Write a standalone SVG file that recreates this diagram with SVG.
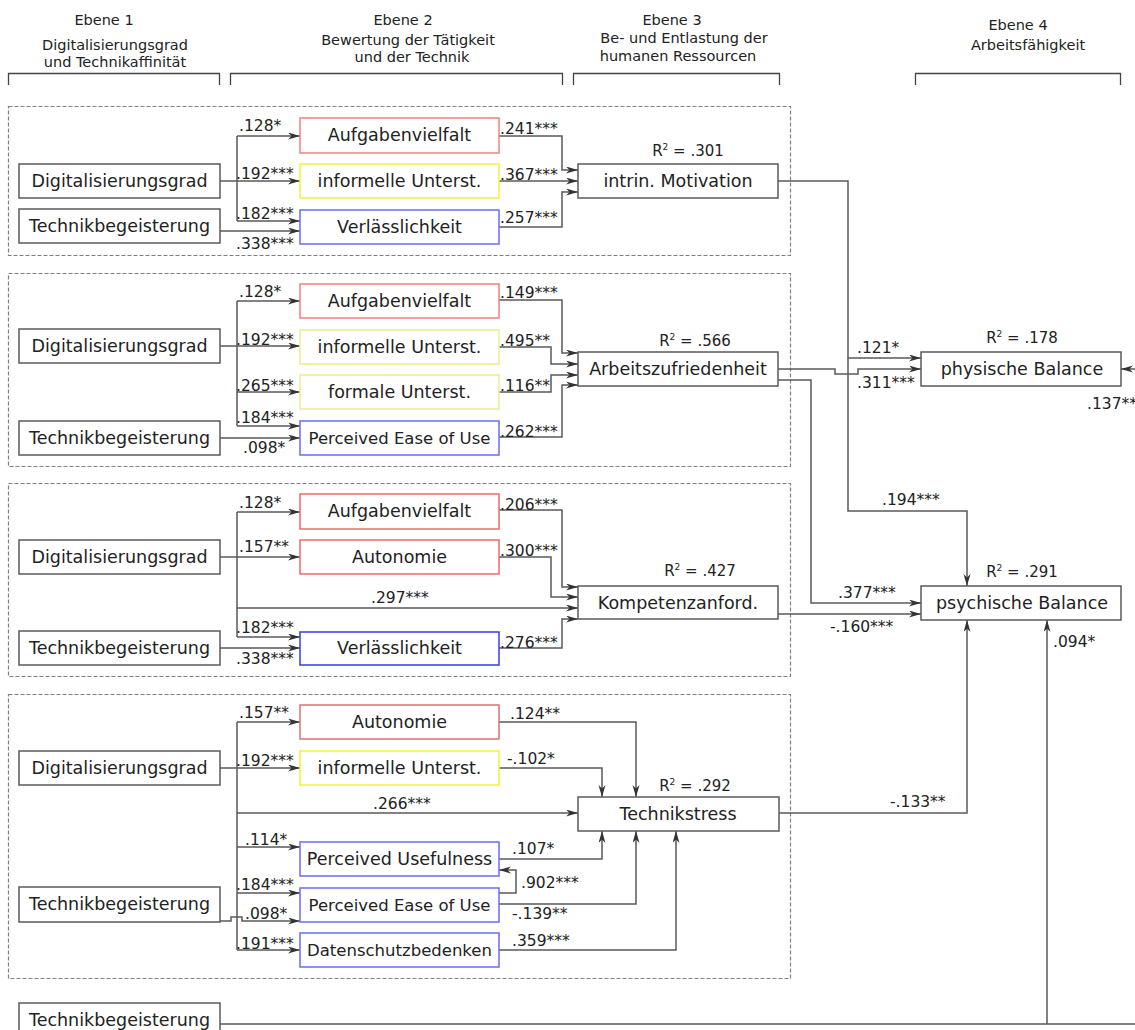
<svg xmlns="http://www.w3.org/2000/svg" width="1135" height="1030" viewBox="0 0 1135 1030">
  <defs>
    <marker id="ah" markerUnits="userSpaceOnUse" markerWidth="13" markerHeight="8" refX="12" refY="3.5" orient="auto">
      <path d="M0,0 L12,3.5 L0,7 L3.5,3.5 z" fill="#333"/>
    </marker>
    <style>
      text { font-family: "DejaVu Sans", Verdana, sans-serif; fill: #222; }
      .hd { font-size: 14.5px; text-anchor: middle; }
      .nt { font-size: 17.5px; text-anchor: middle; }
      .nts { font-size: 16.5px; text-anchor: middle; }
      .lb { font-size: 15.5px; }
      .r2 { font-size: 15px; text-anchor: middle; }
      .sup { font-size: 9px; }
      .box { fill: #fff; stroke: #5a5a5a; stroke-width: 1.5; }
      .red { stroke: #f08080; }
      .red2 { stroke: #f06a6a; }
      .red3 { stroke: #d77373; }
      .yel { stroke: #f2f23a; }
      .yel2 { stroke: #ecec8c; }
      .blu { stroke: #6a6aff; }
      .blu2 { stroke: #3a3af0; }
      .panel { fill: none; stroke: #808080; stroke-width: 1.2; stroke-dasharray: 4 2; }
      .brk { fill: none; stroke: #444; stroke-width: 1.3; }
      .w { fill: none; stroke: #595959; stroke-width: 1.5; }
      .a { marker-end: url(#ah); }
    </style>
  </defs>
  <rect width="1135" height="1030" fill="#fff"/>

  <!-- column headings -->
  <g id="headings">
    <text class="hd" x="104" y="25">Ebene 1</text>
    <text class="hd" x="115" y="50">Digitalisierungsgrad</text>
    <text class="hd" x="115" y="67">und Technikaffinität</text>
    <text class="hd" x="403" y="25">Ebene 2</text>
    <text class="hd" x="408" y="45">Bewertung der Tätigkeit</text>
    <text class="hd" x="412" y="62">und der Technik</text>
    <text class="hd" x="672" y="25">Ebene 3</text>
    <text class="hd" x="684" y="43">Be- und Entlastung der</text>
    <text class="hd" x="678" y="61">humanen Ressourcen</text>
    <text class="hd" x="1018" y="30">Ebene 4</text>
    <text class="hd" x="1028" y="50">Arbeitsfähigkeit</text>
    <path class="brk" d="M8.5,85 V73.5 H219.5 V85"/>
    <path class="brk" d="M230.5,85 V73.5 H562.5 V85"/>
    <path class="brk" d="M573.5,85 V73.5 H779.5 V85"/>
    <path class="brk" d="M915.5,85 V73.5 H1120.5 V85"/>
  </g>

  <!-- dashed model panels -->
  <g id="panels">
    <rect class="panel" x="8.5" y="106.5" width="782" height="149"/>
    <rect class="panel" x="8.5" y="273.5" width="782" height="193"/>
    <rect class="panel" x="8.5" y="483.5" width="782" height="193"/>
    <rect class="panel" x="8.5" y="694.5" width="782" height="284"/>
  </g>

  <!-- connectors -->
  <g id="connectors">
    <!-- model 1: intrinsic motivation -->
    <path class="w a" d="M220,181 H300"/>
    <path class="w" d="M237,136 V221"/>
    <path class="w a" d="M237,136 H300"/>
    <path class="w a" d="M237,221 H300"/>
    <path class="w a" d="M220,231 H300"/>
    <path class="w a" d="M499,136 H562 V170 H578"/>
    <path class="w a" d="M499,181 H578"/>
    <path class="w a" d="M499,227 H562 V192 H578"/>
    <path class="w a" d="M778,181 H848 V358 H921"/>
    <path class="w a" d="M848,358 V511 H967 V586"/>

    <!-- model 2: job satisfaction -->
    <path class="w a" d="M220,346 H300"/>
    <path class="w" d="M237,301 V426"/>
    <path class="w a" d="M237,301 H300"/>
    <path class="w a" d="M237,392 H300"/>
    <path class="w a" d="M237,426 H300"/>
    <path class="w a" d="M220,438 H300"/>
    <path class="w a" d="M499,300 H562 V353 H578"/>
    <path class="w a" d="M499,347 H551 V364 H578"/>
    <path class="w a" d="M499,392 H551 V375 H578"/>
    <path class="w a" d="M499,437 H562 V385 H578"/>
    <path class="w a" d="M778,369 H835 V374 H858 V369 H921"/>
    <path class="w a" d="M778,380 H811 V603 H921"/>

    <!-- model 3: competence demands -->
    <path class="w" d="M237,512 V637"/>
    <path class="w a" d="M237,512 H300"/>
    <path class="w a" d="M220,557 H300"/>
    <path class="w a" d="M237,608 H578"/>
    <path class="w a" d="M237,637 H300"/>
    <path class="w a" d="M220,648 H300"/>
    <path class="w a" d="M499,510 H562 V587 H578"/>
    <path class="w a" d="M499,557 H551 V597 H578"/>
    <path class="w a" d="M499,648 H562 V619 H578"/>
    <path class="w a" d="M778,614 H921"/>

    <!-- model 4: technostress -->
    <path class="w" d="M237,722 V950"/>
    <path class="w a" d="M237,722 H300"/>
    <path class="w a" d="M220,768 H300"/>
    <path class="w a" d="M237,813 H578"/>
    <path class="w a" d="M237,847 H300"/>
    <path class="w a" d="M237,893 H300"/>
    <path class="w a" d="M220,921 H231 V917 H242 V921 H300"/>
    <path class="w a" d="M237,950 H300"/>
    <path class="w a" d="M499,722 H636 V797"/>
    <path class="w a" d="M499,768 H602 V797"/>
    <path class="w a" d="M499,859 H602 V831"/>
    <path class="w a" d="M499,893 H516 V870 H499"/>
    <path class="w a" d="M499,904 H636 V831"/>
    <path class="w a" d="M499,950 H676 V831"/>
    <path class="w a" d="M779,813 H967 V620"/>

    <!-- direct paths into work ability -->
    <path class="w" d="M220,1024 H1135"/>
    <path class="w a" d="M1047,1024 V620"/>
    <path class="w a" d="M1135,369 H1121"/>
  </g>

  <!-- path coefficients -->
  <g id="coefficients" class="lb">
    <text class="lb" x="239" y="131">.128*</text>
    <text class="lb" x="236" y="179">.192***</text>
    <text class="lb" x="236" y="219">.182***</text>
    <text class="lb" x="236" y="249">.338***</text>
    <text class="lb" x="500" y="134">.241***</text>
    <text class="lb" x="500" y="180">.367***</text>
    <text class="lb" x="500" y="223">.257***</text>

    <text class="lb" x="239" y="297">.128*</text>
    <text class="lb" x="236" y="345">.192***</text>
    <text class="lb" x="236" y="391">.265***</text>
    <text class="lb" x="236" y="423">.184***</text>
    <text class="lb" x="243" y="453">.098*</text>
    <text class="lb" x="500" y="298">.149***</text>
    <text class="lb" x="500" y="346">.495**</text>
    <text class="lb" x="500" y="391">.116**</text>
    <text class="lb" x="500" y="437">.262***</text>

    <text class="lb" x="239" y="508">.128*</text>
    <text class="lb" x="239" y="552">.157**</text>
    <text class="lb" x="371" y="603">.297***</text>
    <text class="lb" x="236" y="633">.182***</text>
    <text class="lb" x="236" y="664">.338***</text>
    <text class="lb" x="500" y="510">.206***</text>
    <text class="lb" x="500" y="556">.300***</text>
    <text class="lb" x="500" y="648">.276***</text>

    <text class="lb" x="239" y="718">.157**</text>
    <text class="lb" x="236" y="766">.192***</text>
    <text class="lb" x="373" y="809">.266***</text>
    <text class="lb" x="245" y="845">.114*</text>
    <text class="lb" x="236" y="890">.184***</text>
    <text class="lb" x="245" y="919">.098*</text>
    <text class="lb" x="236" y="949">.191***</text>
    <text class="lb" x="510" y="719">.124**</text>
    <text class="lb" x="507" y="764">-.102*</text>
    <text class="lb" x="512" y="854">.107*</text>
    <text class="lb" x="521" y="888">.902***</text>
    <text class="lb" x="512" y="919">-.139**</text>
    <text class="lb" x="512" y="946">.359***</text>

    <text class="lb" x="857" y="353">.121*</text>
    <text class="lb" x="857" y="388">.311***</text>
    <text class="lb" x="1087" y="409">.137**</text>
    <text class="lb" x="882" y="505">.194***</text>
    <text class="lb" x="838" y="598">.377***</text>
    <text class="lb" x="830" y="632">-.160***</text>
    <text class="lb" x="1053" y="647">.094*</text>
    <text class="lb" x="890" y="807">-.133**</text>
  </g>

  <!-- model 1 nodes -->
  <g id="m1-digitalisierungsgrad"><rect class="box" x="19" y="164" width="201" height="34"/><text class="nt" x="119.5" y="187">Digitalisierungsgrad</text></g>
  <g id="m1-technikbegeisterung"><rect class="box" x="19" y="209" width="201" height="34"/><text class="nt" x="119.5" y="232">Technikbegeisterung</text></g>
  <g id="m1-aufgabenvielfalt"><rect class="box red" x="300" y="118" width="199" height="35"/><text class="nt" x="399.5" y="141">Aufgabenvielfalt</text></g>
  <g id="m1-informelle"><rect class="box yel" x="300" y="164" width="199" height="34"/><text class="nt" x="399.5" y="187">informelle Unterst.</text></g>
  <g id="m1-verlaesslichkeit"><rect class="box blu" x="300" y="210" width="199" height="34"/><text class="nt" x="399.5" y="233">Verlässlichkeit</text></g>
  <g id="m1-motivation"><rect class="box" x="578" y="164" width="200" height="34"/><text class="nt" x="678" y="187">intrin. Motivation</text>
    <text class="r2" x="688" y="156">R<tspan class="sup" dy="-6">2</tspan><tspan dy="6"> = .301</tspan></text></g>

  <!-- model 2 nodes -->
  <g id="m2-digitalisierungsgrad"><rect class="box" x="19" y="329" width="201" height="34"/><text class="nt" x="119.5" y="352">Digitalisierungsgrad</text></g>
  <g id="m2-technikbegeisterung"><rect class="box" x="19" y="421" width="201" height="34"/><text class="nt" x="119.5" y="444">Technikbegeisterung</text></g>
  <g id="m2-aufgabenvielfalt"><rect class="box red" x="300" y="284" width="199" height="34"/><text class="nt" x="399.5" y="307">Aufgabenvielfalt</text></g>
  <g id="m2-informelle"><rect class="box yel2" x="300" y="330" width="199" height="34"/><text class="nt" x="399.5" y="353">informelle Unterst.</text></g>
  <g id="m2-formale"><rect class="box yel2" x="300" y="375" width="199" height="34"/><text class="nt" x="399.5" y="398">formale Unterst.</text></g>
  <g id="m2-ease-of-use"><rect class="box blu" x="300" y="421" width="199" height="34"/><text class="nts" x="399.5" y="444">Perceived Ease of Use</text></g>
  <g id="m2-arbeitszufriedenheit"><rect class="box" x="578" y="352" width="200" height="34"/><text class="nt" x="678" y="375">Arbeitszufriedenheit</text>
    <text class="r2" x="695" y="346">R<tspan class="sup" dy="-6">2</tspan><tspan dy="6"> = .566</tspan></text></g>

  <!-- model 3 nodes -->
  <g id="m3-digitalisierungsgrad"><rect class="box" x="19" y="540" width="201" height="34"/><text class="nt" x="119.5" y="563">Digitalisierungsgrad</text></g>
  <g id="m3-technikbegeisterung"><rect class="box" x="19" y="631" width="201" height="34"/><text class="nt" x="119.5" y="654">Technikbegeisterung</text></g>
  <g id="m3-aufgabenvielfalt"><rect class="box red2" x="300" y="494" width="199" height="35"/><text class="nt" x="399.5" y="517">Aufgabenvielfalt</text></g>
  <g id="m3-autonomie"><rect class="box red2" x="300" y="540" width="199" height="34"/><text class="nt" x="399.5" y="563">Autonomie</text></g>
  <g id="m3-verlaesslichkeit"><rect class="box blu2" x="300" y="632" width="199" height="33"/><text class="nt" x="399.5" y="654">Verlässlichkeit</text></g>
  <g id="m3-kompetenz"><rect class="box" x="578" y="586" width="200" height="33"/><text class="nt" x="678" y="609">Kompetenzanford.</text>
    <text class="r2" x="700" y="576">R<tspan class="sup" dy="-6">2</tspan><tspan dy="6"> = .427</tspan></text></g>

  <!-- model 4 nodes -->
  <g id="m4-digitalisierungsgrad"><rect class="box" x="19" y="751" width="201" height="34"/><text class="nt" x="119.5" y="774">Digitalisierungsgrad</text></g>
  <g id="m4-technikbegeisterung"><rect class="box" x="19" y="887" width="201" height="35"/><text class="nt" x="119.5" y="910">Technikbegeisterung</text></g>
  <g id="m4-autonomie"><rect class="box red3" x="300" y="705" width="199" height="34"/><text class="nt" x="399.5" y="728">Autonomie</text></g>
  <g id="m4-informelle"><rect class="box yel" x="300" y="751" width="199" height="34"/><text class="nt" x="399.5" y="774">informelle Unterst.</text></g>
  <g id="m4-usefulness"><rect class="box blu" x="300" y="842" width="199" height="34"/><text class="nt" x="399.5" y="865">Perceived Usefulness</text></g>
  <g id="m4-ease-of-use"><rect class="box blu" x="300" y="888" width="199" height="34"/><text class="nts" x="399.5" y="911">Perceived Ease of Use</text></g>
  <g id="m4-datenschutz"><rect class="box blu" x="300" y="933" width="199" height="34"/><text class="nts" x="399.5" y="956">Datenschutzbedenken</text></g>
  <g id="m4-technikstress"><rect class="box" x="578" y="797" width="201" height="34"/><text class="nt" x="678" y="820">Technikstress</text>
    <text class="r2" x="695" y="791">R<tspan class="sup" dy="-6">2</tspan><tspan dy="6"> = .292</tspan></text></g>

  <!-- outcomes -->
  <g id="physische-balance"><rect class="box" x="921" y="352" width="200" height="34"/><text class="nt" x="1022" y="375">physische Balance</text>
    <text class="r2" x="1022" y="343">R<tspan class="sup" dy="-6">2</tspan><tspan dy="6"> = .178</tspan></text></g>
  <g id="psychische-balance"><rect class="box" x="921" y="586" width="200" height="34"/><text class="nt" x="1022" y="609">psychische Balance</text>
    <text class="r2" x="1022" y="577">R<tspan class="sup" dy="-6">2</tspan><tspan dy="6"> = .291</tspan></text></g>

  <g id="technikbegeisterung-direkt"><rect class="box" x="19" y="1003" width="201" height="34"/><text class="nt" x="119.5" y="1026">Technikbegeisterung</text></g>
</svg>
